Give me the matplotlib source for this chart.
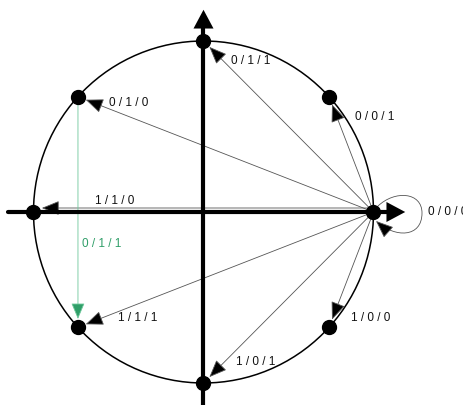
import numpy as np
import matplotlib
matplotlib.use("Agg")
import matplotlib.pyplot as plt
from matplotlib.patches import FancyArrowPatch, Ellipse
from matplotlib.path import Path

plt.rcParams['font.family'] = ['Liberation Sans', 'DejaVu Sans']

# states on the circle (angle in degrees)
state_angles = [0, 42.4, 90, 137.6, 180, 222.4, 270, 317.6]
# transitions leaving the state at 0 deg
edge_targets = [42.4, 90, 137.6, 180, 222.4, 270, 317.6]
edge_labels = ['0 / 0 / 1', '0 / 1 / 1', '0 / 1 / 0', '1 / 1 / 0',
               '1 / 1 / 1', '1 / 0 / 1', '1 / 0 / 0']
self_label = '0 / 0 / 0'
# extra transition drawn in green
green_from, green_to = 137.6, 222.4
green_label = '0 / 1 / 1'

# layout (pixel coordinates)
cx, cy, rx, ry = 203.5, 212, 170, 171
label_xy = [(355, 117), (231, 61), (109, 103), (95, 201),
            (118, 318), (236, 362), (351, 318)]
self_label_xy = (428, 212)
green_label_xy = (82, 244)
green_col = '#2f9e68'
thin = dict(mutation_scale=10, lw=0.6, edgecolor='#555555', facecolor='black')

def pos(a):
    t = np.deg2rad(a)
    return cx + rx * np.cos(t), cy - ry * np.sin(t)

fig = plt.figure(figsize=(4.64, 4.05), dpi=100)
ax = fig.add_axes([0, 0, 1, 1])
ax.set_xlim(0, 464)
ax.set_ylim(405, 0)
ax.axis('off')

# circle
ax.add_patch(Ellipse((cx, cy), 2 * rx, 2 * ry, fill=False, lw=1.1, color='black', zorder=2))

# axes with arrow heads
ax.plot([8, 392], [cy, cy], color='black', lw=3, solid_capstyle='round', zorder=3)
ax.plot([cx, cx], [410, 24], color='black', lw=3, zorder=3)
for a, b in [((380, cy), (408, cy)), ((cx, 35), (cx, 7))]:
    ax.add_patch(FancyArrowPatch(a, b, arrowstyle='-|>,head_length=1.35,head_width=0.72',
                                 mutation_scale=10, lw=0, color='black', zorder=3))

# transitions from the 0 deg state
src = pos(0)
for a, lab, (lx, ly) in zip(edge_targets, edge_labels, label_xy):
    tx, ty = pos(a)
    sy = src[1]
    if a == 180:
        ty -= 4
        sy -= 4
    ax.add_patch(FancyArrowPatch((src[0], sy), (tx, ty),
                                 arrowstyle='-|>,head_length=1.1,head_width=0.45',
                                 shrinkA=0, shrinkB=6, zorder=2, **thin))
    ax.text(lx, ly, lab, fontsize=8.5, ha='left', va='center', color='#111111')

# self loop
loop = Path([(378, 206), (395, 190), (422, 192), (422, 213),
             (422, 238), (395, 238), (376, 221)],
            [Path.MOVETO, Path.CURVE4, Path.CURVE4, Path.CURVE4,
             Path.CURVE4, Path.CURVE4, Path.CURVE4])
ax.add_patch(FancyArrowPatch(path=loop, arrowstyle='-|>,head_length=1.1,head_width=0.45',
                             zorder=2, **thin))
ax.text(*self_label_xy, self_label, fontsize=8.5, ha='left', va='center', color='#111111')

# green transition
ax.add_patch(FancyArrowPatch(pos(green_from), pos(green_to),
                             arrowstyle='-|>,head_length=1.0,head_width=0.42',
                             mutation_scale=10, lw=0.6, edgecolor='#6cc79a',
                             facecolor=green_col, shrinkA=5, shrinkB=6, zorder=2))
ax.text(*green_label_xy, green_label, fontsize=8.5, ha='left', va='center', color=green_col)

# states
px, py = zip(*[pos(a) for a in state_angles])
ax.plot(px, py, 'o', color='black', markersize=10, zorder=5)

fig.savefig('out.png', dpi=100)
